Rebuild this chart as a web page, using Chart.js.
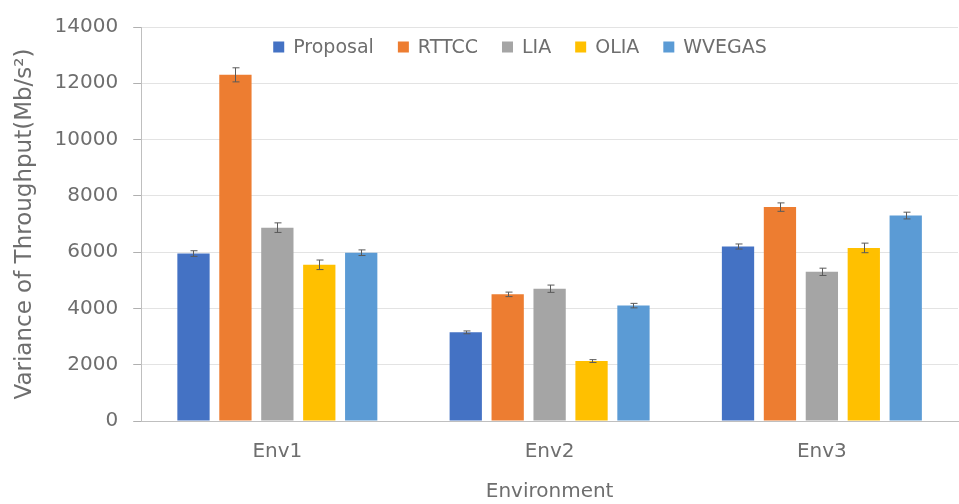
<!DOCTYPE html>
<html>
<head>
<meta charset="utf-8">
<script src="https://cdn.jsdelivr.net/npm/chart.js@4.4.1/dist/chart.umd.min.js"></script>
<style>
  html, body { margin: 0; padding: 0; background: #fff; }
  #wrap { width: 959px; height: 504px; }
</style>
</head>
<body>
<div id="wrap"><canvas id="throughputChart"></canvas></div>
<script>
// categories and series
const environments = ['Env1', 'Env2', 'Env3'];
const seriesNames = ['Proposal', 'RTTCC', 'LIA', 'OLIA', 'WVEGAS'];
const seriesColors = ['#4472C4', '#ED7D31', '#A5A5A5', '#FFC000', '#5B9BD5'];

const proposal = [5950, 3150, 6200];
const rttcc = [12300, 4500, 7600];
const lia = [6870, 4700, 5300];
const olia = [5550, 2130, 6150];
const wvegas = [5980, 4100, 7300];

// half-width of the error bars
const proposalErr = [100, 50, 90];
const rttccErr = [250, 80, 150];
const liaErr = [170, 130, 130];
const oliaErr = [170, 50, 170];
const wvegasErr = [100, 80, 120];

const yTicks = [0, 2000, 4000, 6000, 8000, 10000, 12000, 14000];

const values = [proposal, rttcc, lia, olia, wvegas];
const errors = [proposalErr, rttccErr, liaErr, oliaErr, wvegasErr];

const textColor = '#6e6e6e';
const fontFamily = '"DejaVu Sans", sans-serif';

// draws the whiskers on top of each bar
const errorBars = {
  id: 'errorBars',
  afterDatasetsDraw(chart) {
    const ctx = chart.ctx;
    const y = chart.scales.y;
    ctx.save();
    ctx.strokeStyle = '#5a5a5a';
    ctx.lineWidth = 1;
    chart.data.datasets.forEach((ds, i) => {
      const meta = chart.getDatasetMeta(i);
      meta.data.forEach((bar, j) => {
        const v = ds.data[j];
        const e = ds.errors[j];
        const top = y.getPixelForValue(v + e);
        const bot = y.getPixelForValue(v - e);
        const x = Math.round(bar.x) + 0.5;
        ctx.beginPath();
        ctx.moveTo(x, top);
        ctx.lineTo(x, bot);
        ctx.moveTo(x - 3, top);
        ctx.lineTo(x + 4, top);
        ctx.moveTo(x - 3, bot);
        ctx.lineTo(x + 4, bot);
        ctx.stroke();
      });
    });
    ctx.restore();
  }
};

// one-row legend sitting inside the plot area, near the top
const innerLegend = {
  id: 'innerLegend',
  afterDraw(chart) {
    const ctx = chart.ctx;
    const area = chart.chartArea;
    const box = 11;
    let x = area.left + 132;
    const yMid = area.top + 20;
    ctx.save();
    ctx.font = '19px ' + fontFamily;
    ctx.textBaseline = 'middle';
    ctx.textAlign = 'left';
    chart.data.datasets.forEach(ds => {
      ctx.fillStyle = ds.backgroundColor;
      ctx.fillRect(x, yMid - box / 2, box, box);
      ctx.fillStyle = textColor;
      ctx.fillText(ds.label, x + box + 9, yMid + 1);
      x += box + 9 + ctx.measureText(ds.label).width + 24;
    });
    ctx.restore();
  }
};

const ctx = document.getElementById('throughputChart').getContext('2d');
new Chart(ctx, {
  type: 'bar',
  data: {
    labels: environments,
    datasets: seriesNames.map((name, i) => ({
      label: name,
      data: values[i],
      errors: errors[i],
      backgroundColor: seriesColors[i],
      barPercentage: 0.77,
      categoryPercentage: 0.77
    }))
  },
  options: {
    responsive: true,
    maintainAspectRatio: false,
    animation: false,
    layout: { padding: { left: 0, right: 1, top: 8, bottom: 0 } },
    plugins: {
      legend: { display: false },
      tooltip: { enabled: false }
    },
    scales: {
      x: {
        grid: { display: false },
        border: { display: true, color: '#bfbfbf', width: 1 },
        ticks: { color: textColor, font: { family: fontFamily, size: 20 }, padding: 11 },
        title: {
          display: true,
          text: 'Environment',
          color: textColor,
          font: { family: fontFamily, size: 20 },
          padding: { top: 5, bottom: 0 }
        }
      },
      y: {
        min: 0,
        max: 14000,
        afterBuildTicks: axis => { axis.ticks = yTicks.map(v => ({ value: v })); },
        grid: { color: '#e3e3e3', tickColor: '#b0b0b0', tickLength: 8, lineWidth: 1 },
        border: { display: true, color: '#bfbfbf', width: 1 },
        ticks: {
          color: textColor,
          font: { family: fontFamily, size: 20 },
          padding: 15,
          callback: v => String(v)
        },
        title: {
          display: true,
          text: 'Variance of Throughput(Mb/s²)',
          color: textColor,
          font: { family: fontFamily, size: 23 },
          padding: { top: 11, bottom: 1 }
        }
      }
    }
  },
  plugins: [errorBars, innerLegend]
});
</script>
</body>
</html>
